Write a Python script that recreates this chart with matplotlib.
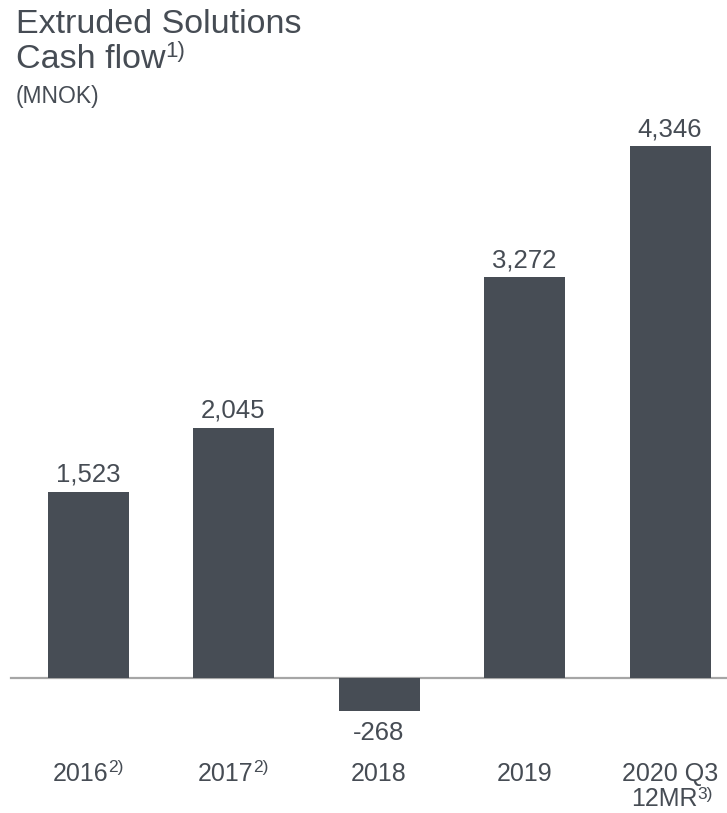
import matplotlib
matplotlib.use("Agg")
import matplotlib.pyplot as plt

plt.rcParams["font.family"] = ["Liberation Sans", "DejaVu Sans"]

# cash flow per period (MNOK)
periods = ["2016", "2017", "2018", "2019", "2020 Q3"]
period_notes = ["2)", "2)", "", "", ""]
cash_flow = [1523, 2045, -268, 3272, 4346]

bar_color = "#474d55"
text_color = "#464c54"
W, H = 727, 813

fig = plt.figure(figsize=(W / 100, H / 100), dpi=100)
ax = fig.add_axes([0, 0, 1, 1])
renderer = fig.canvas.get_renderer()

# pixel layout: first bar centred at x=88, 145.5 px apart; zero line at y=678
step = 145.5
px_per_unit = 532 / 4346
ax.set_xlim(-88 / step, (W - 88) / step)
ax.set_ylim(-(H - 678) / px_per_unit, 678 / px_per_unit)
ax.axis("off")

xs = list(range(len(cash_flow)))
ax.bar(xs, cash_flow, width=81 / step, color=bar_color, zorder=2)
ax.axhline(0, xmin=11 / W, xmax=1, color="#a6a6a6", lw=1.6, zorder=1)

for x, v in zip(xs, cash_flow):
    offset = 10 if v >= 0 else -29
    ax.annotate(f"{v:,}", (x, v), xytext=(0, offset * 0.72),
                textcoords="offset points", ha="center", va="baseline",
                fontsize=18.5, color=text_color)


def put_text(x, y, main, sup="", size=18, sup_size=13, raise_px=10,
             align="left"):
    # main text plus an optional superscript note, positioned in pixels
    t = fig.text(0, 0, main, fontsize=size, color=text_color,
                 ha="left", va="baseline")
    w = t.get_window_extent(renderer).width
    s = None
    ws = 0
    if sup:
        s = fig.text(0, 0, sup, fontsize=sup_size, color=text_color,
                     ha="left", va="baseline")
        ws = s.get_window_extent(renderer).width
    x0 = x - (w + ws) / 2 if align == "center" else x
    t.set_position((x0 / W, 1 - y / H))
    if s is not None:
        s.set_position(((x0 + w) / W, 1 - (y - raise_px) / H))


# category labels under the chart
for x, name, note in zip(xs, periods, period_notes):
    put_text(88 + step * x, 781, name, note, size=18, sup_size=12.5,
             raise_px=9, align="center")
put_text(88 + step * 4 + 2, 806, "12MR", "3)", size=18, sup_size=12.5,
         raise_px=7, align="center")

# heading
put_text(16, 33, "Extruded Solutions", size=24.5)
put_text(16, 68, "Cash flow", "1)", size=24.5, sup_size=16, raise_px=11)
put_text(16, 103, "(MNOK)", size=16.5)

fig.savefig("out.png", dpi=100)
